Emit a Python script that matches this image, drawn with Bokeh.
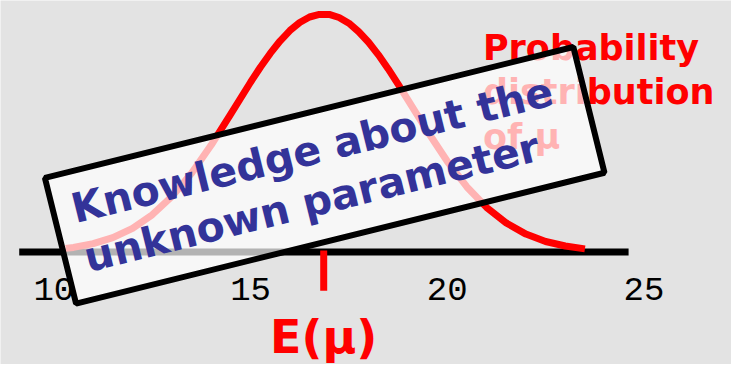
import math
from bokeh.plotting import figure
from bokeh.models import Range1d
from bokeh.core.properties import value
from bokeh.embed import file_html
from bokeh.resources import INLINE

# ---- data ----
mu_grid = [10.3, 10.5, 11.0, 11.5, 12.0, 12.5, 13.0, 13.5, 14.0, 14.5, 15.0, 15.25,
           15.5, 15.75, 16.0, 16.25, 16.5, 16.75, 17.0, 17.25, 17.5, 17.75, 18.0,
           18.25, 18.5, 18.75, 19.0, 19.5, 20.0, 20.5, 21.0, 21.5, 22.0, 22.5,
           23.0, 23.5]
density = [0.015, 0.019, 0.035, 0.060, 0.099, 0.156, 0.233, 0.331, 0.449, 0.580,
           0.713, 0.776, 0.834, 0.886, 0.930, 0.964, 0.987, 0.998, 0.998, 0.985,
           0.961, 0.925, 0.881, 0.828, 0.769, 0.705, 0.639, 0.506, 0.381, 0.273,
           0.187, 0.122, 0.075, 0.044, 0.025, 0.013]
expected_mu = 16.86
baseline_x = [9.12, 24.61]
tick_values = [10, 15, 20, 25]
tick_labels = ["10", "15", "20", "25"]
prob_lines = ["Probability", "distribution", "of \u03bc"]
box_lines = ["Knowledge about the", "unknown parameter"]
x_title = "E(\u03bc)"

# ---- layout (reference picture is 747x380, drawn into 731x364) ----
W, H = 731, 364
RW, RH = 747, 380
SX, SY = W / RW, H / RH
KX, KY = 40.2, 248.5          # reference px per data unit
X0 = 8.843 - 8 / KX           # data x at reference px 0
Y1 = 262.5 / KY               # data y at reference px 0
x_range = Range1d(X0, X0 + RW / KX)
y_range = Range1d(Y1 - RH / KY, Y1)

def px2x(px):
    return X0 + px / KX

def px2y(py):
    return Y1 - py / KY

MID = 0.35   # distance (in em) from baseline up to the middle anchor

BG = "#e3e3e3"
p = figure(width=W, height=H, output_backend="svg", toolbar_location=None,
           x_range=x_range, y_range=y_range,
           x_axis_location=None, y_axis_location=None,
           min_border=0, min_border_left=0, min_border_right=0,
           min_border_top=0, min_border_bottom=0)
p.grid.visible = False
p.outline_line_color = None
p.background_fill_color = BG
p.border_fill_color = BG

# baseline
p.line(baseline_x, [0, 0], line_color="black", line_width=7, line_cap="butt")

# density curve
p.line(mu_grid, density, line_color="#ff0000", line_width=7, line_join="round")

# expected value tick
p.segment(x0=[expected_mu], y0=[px2y(261)], x1=[expected_mu], y1=[px2y(303)],
          line_color="#ff0000", line_width=7, line_cap="butt")

# tick labels
fs_tick = 34
p.text(x=tick_values, y=[px2y(314 - MID * fs_tick / SY)] * len(tick_values),
       text=tick_labels, text_align="center", text_baseline="middle",
       text_font=value("Liberation Mono"), text_font_size=f"{fs_tick}px",
       text_color="black")

# x title
fs_title = 46
p.text(x=[expected_mu], y=[px2y(368 - MID * fs_title / SY)], text=[x_title],
       text_align="center", text_baseline="middle",
       text_font=value("DejaVu Sans"), text_font_style="bold",
       text_font_size=f"{fs_title}px", text_color="#ff0000")

# probability distribution label
fs_prob = 35
p.text(x=[px2x(493)] * 3,
       y=[px2y(b - MID * fs_prob / SY) for b in (62, 108, 155)],
       text=prob_lines, text_align="left", text_baseline="middle",
       text_font=value("DejaVu Sans"), text_font_style="bold",
       text_font_size=f"{fs_prob}px", text_color="#ff0000")

# rotated box (angle adjusted for the slight non-uniform scaling)
ang_ref = math.radians(14.2)
ang = math.atan(math.tan(ang_ref) * SY / SX)
bw = 557 * math.hypot(SX * math.cos(ang_ref), SY * math.sin(ang_ref))
bh = 135 * math.hypot(SX * math.sin(ang_ref), SY * math.cos(ang_ref))
p.rect(x=[px2x(331.3)], y=[px2y(182.5)], width=bw, height=bh,
       width_units="screen", height_units="screen", angle=ang,
       fill_color="white", fill_alpha=0.7, line_color="black", line_width=6)

# box text (anchors: baseline start points moved up to the text middle)
fs_box = 41
up = MID * fs_box / SY
bx = [77 - up * math.sin(ang_ref), 90 - up * math.sin(ang_ref)]
by = [233 - up * math.cos(ang_ref), 284 - up * math.cos(ang_ref)]
p.text(x=[px2x(v) for v in bx], y=[px2y(v) for v in by], text=box_lines, angle=ang,
       text_align="left", text_baseline="middle",
       text_font=value("DejaVu Sans"), text_font_style="bold",
       text_font_size=f"{fs_box}px", text_color="#333399")

open("out.html", "w").write(file_html(p, INLINE))
